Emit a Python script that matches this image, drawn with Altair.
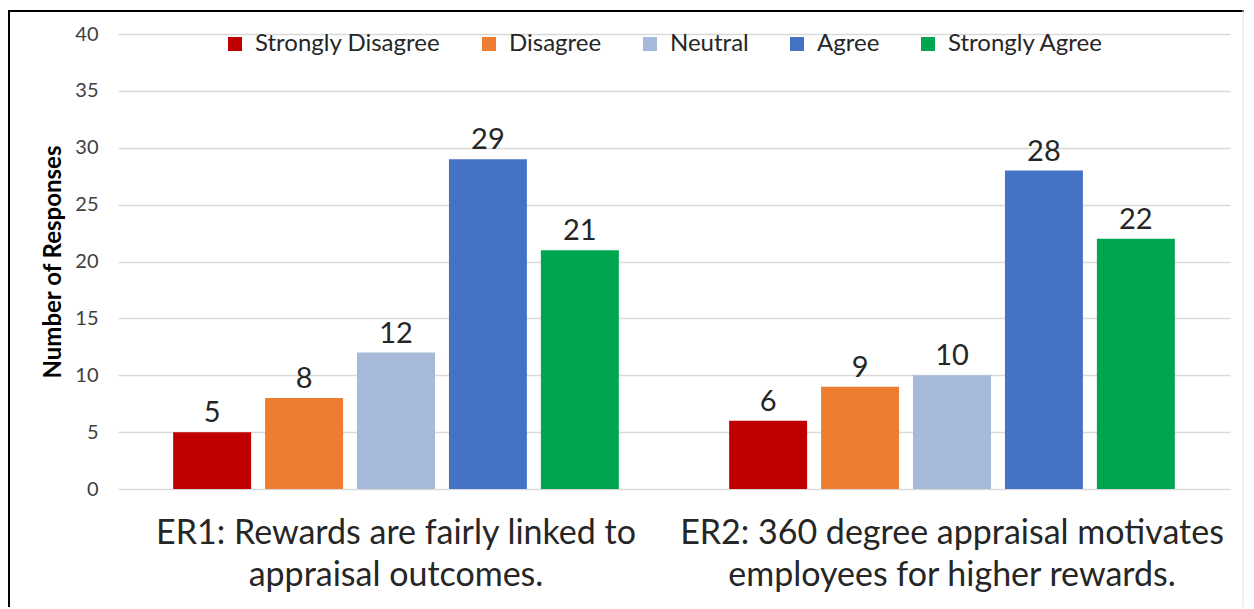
import altair as alt
import pandas as pd

groups = ["ER1: Rewards are fairly linked to|appraisal outcomes.",
          "ER2: 360 degree appraisal motivates|employees for higher rewards."]
responses = ["Strongly Disagree", "Disagree", "Neutral", "Agree", "Strongly Agree"]
er1_values = [5, 8, 12, 29, 21]
er2_values = [6, 9, 10, 28, 22]
colors = ["#C00000", "#ED7D31", "#A6B9D8", "#4472C4", "#00A550"]
y_ticks = [0, 5, 10, 15, 20, 25, 30, 35, 40]

rows = []
for g, vals in zip(groups, [er1_values, er2_values]):
    for r, v in zip(responses, vals):
        rows.append({"group": g, "response": r, "count": v})
df = pd.DataFrame(rows)

FONT = "Lato"

x = alt.X("group:N", sort=groups, title=None,
          scale=alt.Scale(paddingInner=0, paddingOuter=0),
          axis=alt.Axis(labelExpr="split(datum.label, '|')", labelFontSize=34,
                        labelColor="#262626", labelPadding=27, ticks=False,
                        domain=False, labelAngle=0, labelLineHeight=42,
                        labelFont=FONT, labelBaseline="top", labelLimit=0))
xo = alt.XOffset("response:N", sort=responses,
                 scale=alt.Scale(paddingInner=0.152, paddingOuter=0.6))
y = alt.Y("count:Q", title="Number of Responses",
          scale=alt.Scale(domain=[0, 40], nice=False),
          axis=alt.Axis(values=y_ticks, ticks=False, domain=False,
                        gridColor="#D9D9D9", gridWidth=1.5,
                        labelFontSize=20, labelColor="#404040", labelPadding=20,
                        labelFont=FONT, titleFont=FONT, titleFontSize=24,
                        titleFontWeight="bold", titleColor="#000000",
                        titlePadding=9))

bars = alt.Chart(df).mark_bar().encode(
    x=x, xOffset=xo, y=y,
    color=alt.Color("response:N", sort=responses,
                    scale=alt.Scale(domain=responses, range=colors),
                    legend=alt.Legend(title=None, orient="none", direction="horizontal",
                                      legendX=105, legendY=-2,
                                      symbolType="square", symbolSize=196,
                                      symbolStrokeWidth=0, labelFontSize=24,
                                      labelFont=FONT, labelColor="#262626",
                                      labelOffset=8, columnPadding=36, labelLimit=0))
)

labels = alt.Chart(df).mark_text(
    baseline="alphabetic", dy=-10, fontSize=29, font=FONT, color="#262626"
).encode(x=x, xOffset=xo, y=y, text=alt.Text("count:Q"))

frame_left = alt.Chart().mark_rule(color="#000000", strokeWidth=2).encode(
    x=alt.value(-109), y=alt.value(-24), y2=alt.value(573))
frame_top = alt.Chart().mark_rule(color="#000000", strokeWidth=2).encode(
    x=alt.value(-110), x2=alt.value(1126), y=alt.value(-23))
frame_right = alt.Chart().mark_rule(color="#E0E0E0", strokeWidth=1).encode(
    x=alt.value(1125), y=alt.value(-24), y2=alt.value(573))

chart = alt.layer(bars, labels, frame_left, frame_top, frame_right).properties(
    width=1112, height=455,
    autosize=alt.AutoSizeParams(type="none"),
    padding={"left": 118, "top": 34, "right": 24, "bottom": 120},
    background="#FFFFFF"
).configure_view(stroke=None)

chart.save("out.html", embed_options={"renderer": "svg", "actions": False})
